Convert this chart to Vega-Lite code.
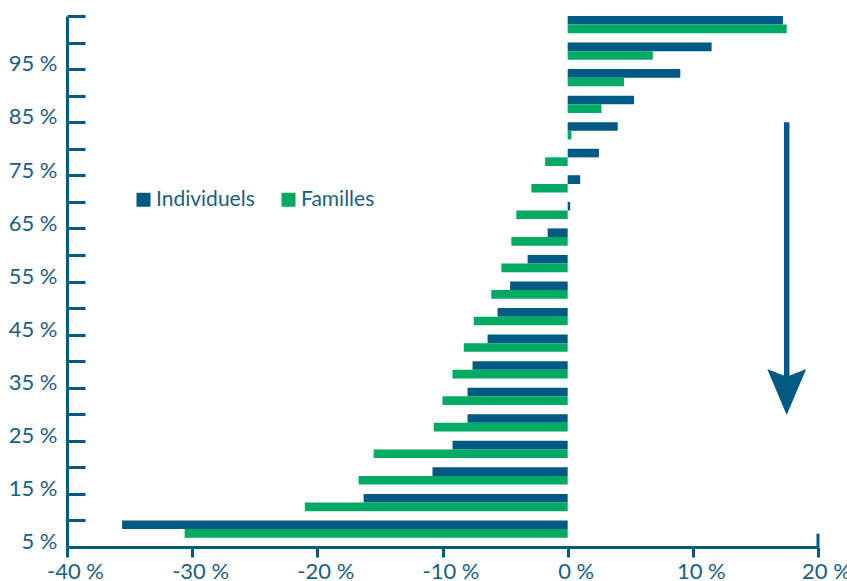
{
  "$schema": "https://vega.github.io/schema/vega-lite/v6.json",
  "width": 751,
  "height": 531,
  "autosize": "none",
  "padding": {"left": 67, "top": 16, "right": 29, "bottom": 34},
  "background": "white",
  "config": {"view": {"stroke": null}, "font": "Lato", "axis": {"grid": false}},
  "datasets": {
    "bars": [
      {"pct": "100 %", "series": "Individuels", "value": 17.2}, {"pct": "100 %", "series": "Familles", "value": 17.5},
      {"pct": "95 %", "series": "Individuels", "value": 11.5}, {"pct": "95 %", "series": "Familles", "value": 6.8},
      {"pct": "90 %", "series": "Individuels", "value": 9.0}, {"pct": "90 %", "series": "Familles", "value": 4.5},
      {"pct": "85 %", "series": "Individuels", "value": 5.3}, {"pct": "85 %", "series": "Familles", "value": 2.7},
      {"pct": "80 %", "series": "Individuels", "value": 4.0}, {"pct": "80 %", "series": "Familles", "value": 0.3},
      {"pct": "75 %", "series": "Individuels", "value": 2.5}, {"pct": "75 %", "series": "Familles", "value": -1.8},
      {"pct": "70 %", "series": "Individuels", "value": 1.0}, {"pct": "70 %", "series": "Familles", "value": -2.9},
      {"pct": "65 %", "series": "Individuels", "value": 0.2}, {"pct": "65 %", "series": "Familles", "value": -4.1},
      {"pct": "60 %", "series": "Individuels", "value": -1.6}, {"pct": "60 %", "series": "Familles", "value": -4.5},
      {"pct": "55 %", "series": "Individuels", "value": -3.2}, {"pct": "55 %", "series": "Familles", "value": -5.3},
      {"pct": "50 %", "series": "Individuels", "value": -4.6}, {"pct": "50 %", "series": "Familles", "value": -6.1},
      {"pct": "45 %", "series": "Individuels", "value": -5.6}, {"pct": "45 %", "series": "Familles", "value": -7.5},
      {"pct": "40 %", "series": "Individuels", "value": -6.4}, {"pct": "40 %", "series": "Familles", "value": -8.3},
      {"pct": "35 %", "series": "Individuels", "value": -7.6}, {"pct": "35 %", "series": "Familles", "value": -9.2},
      {"pct": "30 %", "series": "Individuels", "value": -8.0}, {"pct": "30 %", "series": "Familles", "value": -10.0},
      {"pct": "25 %", "series": "Individuels", "value": -8.0}, {"pct": "25 %", "series": "Familles", "value": -10.7},
      {"pct": "20 %", "series": "Individuels", "value": -9.2}, {"pct": "20 %", "series": "Familles", "value": -15.5},
      {"pct": "15 %", "series": "Individuels", "value": -10.8}, {"pct": "15 %", "series": "Familles", "value": -16.7},
      {"pct": "10 %", "series": "Individuels", "value": -16.3}, {"pct": "10 %", "series": "Familles", "value": -21.0},
      {"pct": "5 %", "series": "Individuels", "value": -35.6}, {"pct": "5 %", "series": "Familles", "value": -30.6}
    ],
    "arrow": [{"x": 17.5, "from": "80 %", "to": "30 %"}],
    "endtick": [{"x": 20, "pct": "5 %"}]
  },
  "layer": [
    {
      "data": {"name": "bars"},
      "mark": {"type": "bar"},
      "encoding": {
        "y": {
          "field": "pct", "type": "nominal", "title": null,
          "scale": {"domain": ["100 %", "95 %", "90 %", "85 %", "80 %", "75 %", "70 %", "65 %", "60 %", "55 %", "50 %", "45 %", "40 %", "35 %", "30 %", "25 %", "20 %", "15 %", "10 %", "5 %"], "paddingInner": 0, "paddingOuter": 0},
          "axis": {
            "orient": "left", "title": null,
            "domainColor": "#005A84", "domainWidth": 3,
            "tickColor": "#005A84", "tickWidth": 3, "tickSize": -18, "tickBand": "extent",
            "labelFont": "Lato", "labelFontSize": 22, "labelColor": "#1b5e87",
            "labelPadding": 28, "labelOffset": 8, "labelOverlap": false,
            "labelExpr": "indexof(['5 %','15 %','25 %','35 %','45 %','55 %','65 %','75 %','85 %','95 %'], datum.value) >= 0 ? datum.value : ''"
          }
        },
        "yOffset": {
          "field": "series", "type": "nominal",
          "scale": {"domain": ["Individuels", "Familles"], "paddingInner": 0, "paddingOuter": 0.54, "align": 0}
        },
        "x": {
          "field": "value", "type": "quantitative", "title": null,
          "scale": {"domain": [-40, 20], "nice": false, "zero": false},
          "axis": {
            "orient": "bottom", "title": null,
            "values": [-40, -30, -20, -10, 0, 10, 20],
            "labelExpr": "datum.value + ' %'",
            "domainColor": "#005A84", "domainWidth": 3,
            "tickColor": "#005A84", "tickWidth": 3, "tickSize": 10,
            "labelFont": "Lato", "labelFontSize": 22, "labelColor": "#1b5e87",
            "labelPadding": 4, "labelOffset": 8, "labelFlush": false, "labelOverlap": false
          }
        },
        "color": {
          "field": "series", "type": "nominal",
          "scale": {"domain": ["Individuels", "Familles"], "range": ["#005A84", "#00AA63"]},
          "legend": {
            "orient": "none", "legendX": 66, "legendY": 173, "direction": "horizontal", "title": null,
            "symbolType": "square", "symbolSize": 196, "symbolStrokeWidth": 0,
            "labelFont": "Lato", "labelFontSize": 21, "labelColor": "#1b5e87",
            "labelOffset": 2, "columnPadding": 23, "padding": 0
          }
        }
      }
    },
    {
      "data": {"name": "arrow"},
      "mark": {"type": "rule", "color": "#005A84", "strokeWidth": 5.5},
      "encoding": {
        "x": {"field": "x", "type": "quantitative", "title": null},
        "y": {"field": "from", "type": "nominal", "bandPosition": 0, "title": null},
        "y2": {"field": "to"}
      }
    },
    {
      "data": {"name": "arrow"},
      "mark": {"type": "point", "shape": "M-1,-0.96L0,-0.56L1,-0.96L0,1.4Z", "filled": true, "color": "#005A84", "size": 1521, "opacity": 1, "strokeWidth": 0},
      "encoding": {
        "x": {"field": "x", "type": "quantitative", "title": null},
        "y": {"field": "to", "type": "nominal", "bandPosition": 0, "title": null}
      }
    },
    {
      "data": {"name": "endtick"},
      "mark": {"type": "rule", "color": "#005A84", "strokeWidth": 3},
      "encoding": {
        "x": {"field": "x", "type": "quantitative", "title": null},
        "y": {"field": "pct", "type": "nominal", "bandPosition": 0.5, "title": null},
        "y2": {"value": {"expr": "height"}}
      }
    }
  ]
}
